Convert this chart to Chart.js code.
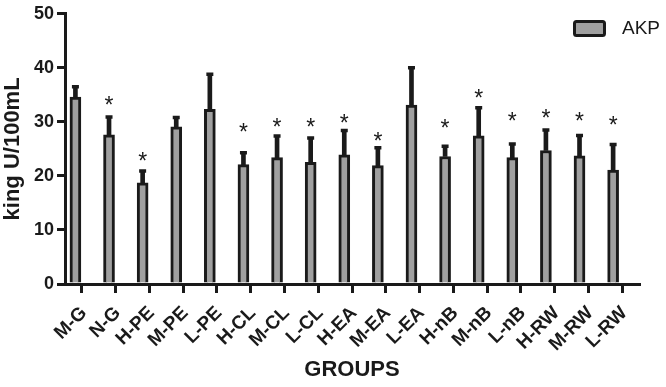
<!DOCTYPE html>
<html lang="en">
<head>
<meta charset="UTF-8">
<title>AKP by group</title>
<style>
    html, body {
        margin: 0;
        padding: 0;
        background: #fff;
    }

    #wrap {
        width: 666px;
        height: 387px;
    }
</style>
</head>
<body>
<div id="wrap"><canvas id="akpChart" width="666" height="387"></canvas></div>

<script src="https://cdn.jsdelivr.net/npm/chart.js"></script>
<script>
    // values (king U/100mL)
    const groups = ['M-G', 'N-G', 'H-PE', 'M-PE', 'L-PE', 'H-CL', 'M-CL', 'L-CL', 'H-EA',
                    'M-EA', 'L-EA', 'H-nB', 'M-nB', 'L-nB', 'H-RW', 'M-RW', 'L-RW'];
    const akpMean = [34.6, 27.6, 18.7, 29.1, 32.3, 22.1, 23.4, 22.5, 23.9, 21.9, 33.1, 23.6, 27.4, 23.4, 24.7, 23.7, 21.1];
    const akpSem = [1.9, 3.3, 2.2, 1.7, 6.5, 2.2, 4.0, 4.5, 4.5, 3.3, 6.9, 1.9, 5.2, 2.5, 3.8, 3.8, 4.7];
    // level of the "*" above each bar, null = no mark
    const starLevel = [null, 33.7, 23.3, null, null, 28.6, 29.7, 29.7, 30.3, 27.1, null, 29.5, 34.9, 30.7, 31.3, 30.7, 30.0];
    const yTicks = [0, 10, 20, 30, 40, 50];

    const ink = '#1a1a1a';
    const barGray = '#a0a0a0';
    const fontFamily = '"Liberation Sans", Arial, sans-serif';

    // significance marks
    const starPlugin = {
        id: 'stars',
        afterDatasetsDraw(chart) {
            const { ctx, scales } = chart;
            ctx.save();
            ctx.font = '23px ' + fontFamily;
            ctx.fillStyle = ink;
            ctx.textAlign = 'center';
            ctx.textBaseline = 'alphabetic';
            starLevel.forEach((lvl, i) => {
                if (lvl === null) return;
                const x = scales.xb.getPixelForValue(i);
                const y = scales.y.getPixelForValue(lvl);
                ctx.fillText('*', x, y + 11);
            });
            ctx.restore();
        }
    };

    // legend box in the top right corner
    const legendPlugin = {
        id: 'akpLegend',
        afterDraw(chart) {
            const ctx = chart.ctx;
            ctx.save();
            ctx.fillStyle = barGray;
            ctx.strokeStyle = ink;
            ctx.lineWidth = 3;
            ctx.beginPath();
            ctx.roundRect(574.5, 21.5, 30, 14, 2);
            ctx.fill();
            ctx.stroke();
            ctx.fillStyle = ink;
            ctx.font = '19px ' + fontFamily;
            ctx.textBaseline = 'middle';
            ctx.textAlign = 'left';
            ctx.fillText('AKP', 622, 29);
            ctx.restore();
        }
    };

    const ctx = document.getElementById('akpChart').getContext('2d');
    const akpChart = new Chart(ctx, {
        type: 'bar',
        data: {
            labels: groups,
            datasets: [
                {
                    label: 'AKP',
                    data: akpMean.map((v, i) => ({ x: i, y: v })),
                    xAxisID: 'xb',
                    backgroundColor: barGray,
                    borderColor: ink,
                    borderWidth: 3,
                    barThickness: 11,
                    grouped: false,
                    order: 3
                },
                {
                    label: 'SEM',
                    data: akpMean.map((v, i) => ({ x: i, y: [v, v + akpSem[i]] })),
                    xAxisID: 'xb',
                    backgroundColor: ink,
                    borderWidth: 0,
                    barThickness: 4,
                    grouped: false,
                    order: 2
                },
                {
                    type: 'scatter',
                    label: 'cap',
                    data: akpMean.map((v, i) => ({ x: i, y: v + akpSem[i] })),
                    xAxisID: 'xb',
                    pointStyle: 'line',
                    radius: 3.5,
                    borderWidth: 3.5,
                    borderColor: ink,
                    order: 1
                }
            ]
        },
        options: {
            responsive: false,
            animation: false,
            layout: {
                padding: { top: 11, right: 27, bottom: 0, left: 0 }
            },
            plugins: {
                legend: { display: false },
                tooltip: { enabled: false }
            },
            scales: {
                // hidden axis the bars sit on (slightly left of the tick marks, as in the figure)
                xb: {
                    type: 'linear',
                    display: false,
                    offset: false,
                    min: -0.31,
                    max: 16.77
                },
                x: {
                    type: 'category',
                    offset: true,
                    afterFit: (scale) => { scale.height = 103; },
                    grid: {
                        display: true,
                        offset: false,
                        drawOnChartArea: false,
                        drawTicks: true,
                        tickLength: 9,
                        lineWidth: 3,
                        color: ink
                    },
                    border: { display: true, width: 3, color: ink },
                    ticks: {
                        color: ink,
                        font: { family: fontFamily, size: 19, weight: 'bold' },
                        minRotation: 45,
                        maxRotation: 45,
                        autoSkip: false,
                        padding: 9,
                        labelOffset: 2
                    },
                    title: {
                        display: true,
                        text: 'GROUPS',
                        color: ink,
                        font: { family: fontFamily, size: 22, weight: 'bold' },
                        padding: { top: 4, bottom: 4 }
                    }
                },
                y: {
                    min: yTicks[0],
                    max: yTicks[yTicks.length - 1],
                    afterFit: (scale) => { scale.width = 65; },
                    grid: {
                        display: true,
                        drawOnChartArea: false,
                        drawTicks: true,
                        tickLength: 8,
                        lineWidth: 3,
                        color: ink
                    },
                    border: { display: true, width: 3, color: ink },
                    ticks: {
                        stepSize: yTicks[1] - yTicks[0],
                        color: ink,
                        font: { family: fontFamily, size: 18, weight: 'bold' },
                        padding: 3
                    },
                    title: {
                        display: true,
                        text: 'king U/100mL',
                        color: ink,
                        font: { family: fontFamily, size: 22, weight: 'bold' },
                        padding: { top: 0, bottom: 0 }
                    }
                }
            }
        },
        plugins: [starPlugin, legendPlugin]
    });
</script>
</body>
</html>
